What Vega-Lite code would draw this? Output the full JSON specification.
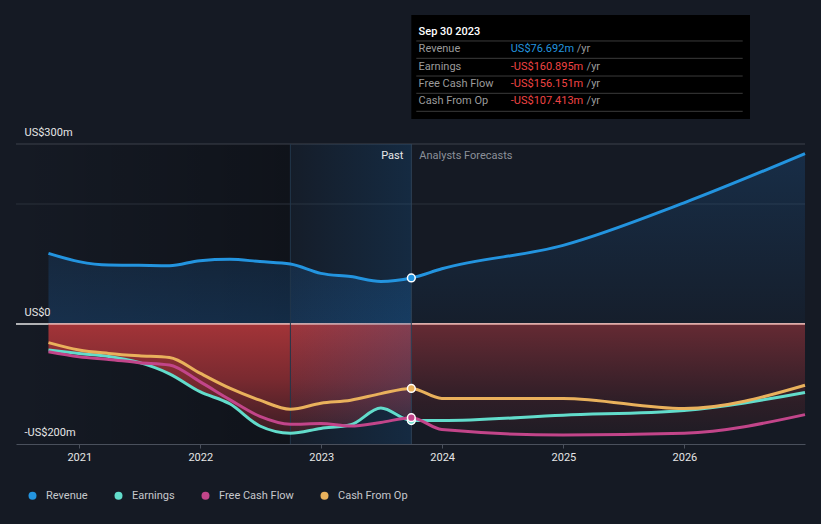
{
  "$schema": "https://vega.github.io/schema/vega-lite/v6.json",
  "width": 789,
  "height": 300,
  "autosize": {"type": "none"},
  "padding": {"left": 16, "top": 144, "right": 16, "bottom": 80},
  "background": "#151a24",
  "config": {"font": "Roboto", "view": {"stroke": null}},
  "datasets": {
    "fin": [
      {"date": "2020-09-30", "series": "Revenue", "value": 117.8},
      {"date": "2020-12-31", "series": "Revenue", "value": 104},
      {"date": "2021-03-31", "series": "Revenue", "value": 98.3},
      {"date": "2021-06-30", "series": "Revenue", "value": 97.8},
      {"date": "2021-09-30", "series": "Revenue", "value": 97.2},
      {"date": "2021-12-31", "series": "Revenue", "value": 105.6},
      {"date": "2022-03-31", "series": "Revenue", "value": 108},
      {"date": "2022-06-30", "series": "Revenue", "value": 104},
      {"date": "2022-09-30", "series": "Revenue", "value": 100},
      {"date": "2022-12-31", "series": "Revenue", "value": 84.4},
      {"date": "2023-03-31", "series": "Revenue", "value": 79},
      {"date": "2023-06-30", "series": "Revenue", "value": 71},
      {"date": "2023-09-30", "series": "Revenue", "value": 76.692},
      {"date": "2023-12-31", "series": "Revenue", "value": 92},
      {"date": "2024-12-31", "series": "Revenue", "value": 131},
      {"date": "2025-12-31", "series": "Revenue", "value": 202},
      {"date": "2026-12-31", "series": "Revenue", "value": 284},
      {"date": "2020-09-30", "series": "Earnings", "value": -43.3},
      {"date": "2020-12-31", "series": "Earnings", "value": -49},
      {"date": "2021-03-31", "series": "Earnings", "value": -54},
      {"date": "2021-06-30", "series": "Earnings", "value": -64},
      {"date": "2021-09-30", "series": "Earnings", "value": -83},
      {"date": "2021-12-31", "series": "Earnings", "value": -112.8},
      {"date": "2022-03-31", "series": "Earnings", "value": -133},
      {"date": "2022-06-30", "series": "Earnings", "value": -170},
      {"date": "2022-09-30", "series": "Earnings", "value": -182},
      {"date": "2022-12-31", "series": "Earnings", "value": -174},
      {"date": "2023-03-31", "series": "Earnings", "value": -168},
      {"date": "2023-06-30", "series": "Earnings", "value": -140},
      {"date": "2023-09-30", "series": "Earnings", "value": -160.895},
      {"date": "2023-12-31", "series": "Earnings", "value": -161},
      {"date": "2024-12-31", "series": "Earnings", "value": -152},
      {"date": "2025-12-31", "series": "Earnings", "value": -144},
      {"date": "2026-12-31", "series": "Earnings", "value": -114},
      {"date": "2020-09-30", "series": "Free Cash Flow", "value": -46.1},
      {"date": "2020-12-31", "series": "Free Cash Flow", "value": -54.4},
      {"date": "2021-03-31", "series": "Free Cash Flow", "value": -59},
      {"date": "2021-06-30", "series": "Free Cash Flow", "value": -64.4},
      {"date": "2021-09-30", "series": "Free Cash Flow", "value": -68.3},
      {"date": "2021-12-31", "series": "Free Cash Flow", "value": -96.1},
      {"date": "2022-03-31", "series": "Free Cash Flow", "value": -126},
      {"date": "2022-06-30", "series": "Free Cash Flow", "value": -154},
      {"date": "2022-09-30", "series": "Free Cash Flow", "value": -167},
      {"date": "2022-12-31", "series": "Free Cash Flow", "value": -166},
      {"date": "2023-03-31", "series": "Free Cash Flow", "value": -170},
      {"date": "2023-06-30", "series": "Free Cash Flow", "value": -164},
      {"date": "2023-09-30", "series": "Free Cash Flow", "value": -156.151},
      {"date": "2023-12-31", "series": "Free Cash Flow", "value": -176},
      {"date": "2024-12-31", "series": "Free Cash Flow", "value": -185},
      {"date": "2025-12-31", "series": "Free Cash Flow", "value": -182},
      {"date": "2026-12-31", "series": "Free Cash Flow", "value": -151},
      {"date": "2020-09-30", "series": "Cash From Op", "value": -31},
      {"date": "2020-12-31", "series": "Cash From Op", "value": -43.3},
      {"date": "2021-03-31", "series": "Cash From Op", "value": -49},
      {"date": "2021-06-30", "series": "Cash From Op", "value": -53},
      {"date": "2021-09-30", "series": "Cash From Op", "value": -56},
      {"date": "2021-12-31", "series": "Cash From Op", "value": -82},
      {"date": "2022-03-31", "series": "Cash From Op", "value": -107},
      {"date": "2022-06-30", "series": "Cash From Op", "value": -127},
      {"date": "2022-09-30", "series": "Cash From Op", "value": -142},
      {"date": "2022-12-31", "series": "Cash From Op", "value": -132},
      {"date": "2023-03-31", "series": "Cash From Op", "value": -127},
      {"date": "2023-06-30", "series": "Cash From Op", "value": -116},
      {"date": "2023-09-30", "series": "Cash From Op", "value": -107.413},
      {"date": "2023-12-31", "series": "Cash From Op", "value": -124},
      {"date": "2024-12-31", "series": "Cash From Op", "value": -124},
      {"date": "2025-12-31", "series": "Cash From Op", "value": -141},
      {"date": "2026-12-31", "series": "Cash From Op", "value": -102}
    ]
  },
  "layer": [
    {
      "data": {"name": "fin"},
      "transform": [{"filter": "datum.series == 'Revenue' && time(datum.date) <= time('2023-09-30')"}],
      "mark": {"type": "area", "interpolate": "monotone", "opacity": 0},
      "encoding": {
        "x": {
          "field": "date", "type": "temporal",
          "scale": {"domain": [{"year": 2020, "month": 6, "date": 24}, {"year": 2026, "month": 12, "date": 31}]},
          "axis": {"title": null, "format": "%Y", "tickCount": {"interval": "year", "step": 1}, "grid": false, "domainColor": "#4a505c", "tickColor": "#4a505c", "tickSize": 4, "labelColor": "#e6e6e6", "labelFontSize": 11, "labelPadding": 3}
        },
        "y": {
          "field": "value", "type": "quantitative",
          "scale": {"domain": [-200, 300], "nice": false, "zero": false},
          "axis": {"title": null, "values": [-200, 0, 300], "labelExpr": "datum.value == 300 ? 'US$300m' : datum.value == 0 ? 'US$0' : '-US$200m'", "domain": false, "ticks": false, "tickSize": 0, "grid": false, "labelAlign": "left", "labelBaseline": "alphabetic", "labelPadding": -8, "labelOffset": -9, "labelColor": "#e6e6e6", "labelFontSize": 11, "zindex": 1}
        }
      }
    },
    {
      "data": {"values": [{}]},
      "mark": {"type": "rect", "fill": {"gradient": "linear", "x1": 0, "y1": 0, "x2": 1, "y2": 0, "stops": [{"offset": 0, "color": "rgba(0,0,0,0)"}, {"offset": 1, "color": "rgba(0,0,0,0.28)"}]}},
      "encoding": {
        "x": {"datum": {"year": 2020, "month": 6, "date": 24}, "type": "temporal"},
        "x2": {"datum": {"year": 2022, "month": 9, "date": 30}},
        "y": {"datum": 300, "type": "quantitative"},
        "y2": {"datum": -200}
      }
    },
    {
      "data": {"values": [{}]},
      "mark": {"type": "rule", "color": "#3c414b", "strokeWidth": 1},
      "encoding": {"y": {"datum": 300, "type": "quantitative"}}
    },
    {
      "data": {"values": [{}]},
      "mark": {"type": "rule", "color": "#2b313b", "strokeWidth": 1},
      "encoding": {"y": {"datum": 200, "type": "quantitative"}}
    },
    {
      "data": {"values": [{}]},
      "mark": {"type": "rule", "color": "#e6e6e6", "strokeWidth": 1.5},
      "encoding": {"y": {"datum": 0, "type": "quantitative"}}
    },
    {
      "data": {"name": "fin"},
      "transform": [{"filter": "datum.series == 'Revenue' && time(datum.date) <= time('2023-09-30')"}],
      "mark": {"type": "area", "interpolate": "monotone", "fill": {"gradient": "linear", "x1": 0, "y1": 0, "x2": 0, "y2": 1, "stops": [{"offset": 0, "color": "rgba(30,100,170,0.2)"}, {"offset": 1, "color": "rgba(30,100,170,0.3)"}]}},
      "encoding": {
        "x": {"field": "date", "type": "temporal"},
        "y": {"field": "value", "type": "quantitative"},
        "y2": {"datum": 0}
      }
    },
    {
      "data": {"name": "fin"},
      "transform": [{"filter": "datum.series == 'Revenue' && time(datum.date) >= time('2023-09-30')"}],
      "mark": {"type": "area", "interpolate": "monotone", "fill": {"gradient": "linear", "x1": 0, "y1": 0, "x2": 0, "y2": 1, "stops": [{"offset": 0, "color": "rgba(30,100,170,0.26)"}, {"offset": 1, "color": "rgba(30,100,170,0.06)"}]}},
      "encoding": {
        "x": {"field": "date", "type": "temporal"},
        "y": {"field": "value", "type": "quantitative"},
        "y2": {"datum": 0}
      }
    },
    {
      "data": {"name": "fin"},
      "transform": [{"filter": "datum.series == 'Earnings' && time(datum.date) <= time('2023-09-30')"}],
      "mark": {"type": "area", "interpolate": "monotone", "fill": {"gradient": "linear", "x1": 0, "y1": 0, "x2": 0, "y2": 1, "stops": [{"offset": 0, "color": "#a33438"}, {"offset": 0.5, "color": "#7a2a30"}, {"offset": 1, "color": "#3a1d24"}]}},
      "encoding": {
        "x": {"field": "date", "type": "temporal"},
        "y": {"field": "value", "type": "quantitative"},
        "y2": {"datum": 0}
      }
    },
    {
      "data": {"name": "fin"},
      "transform": [{"filter": "datum.series == 'Free Cash Flow' && time(datum.date) >= time('2023-09-30')"}],
      "mark": {"type": "area", "interpolate": "monotone", "fill": {"gradient": "linear", "x1": 0, "y1": 0, "x2": 0, "y2": 1, "stops": [{"offset": 0, "color": "#652a33"}, {"offset": 0.7, "color": "#2e1e27"}, {"offset": 1, "color": "#1f1c25"}]}},
      "encoding": {
        "x": {"field": "date", "type": "temporal"},
        "y": {"field": "value", "type": "quantitative"},
        "y2": {"datum": 0}
      }
    },
    {
      "data": {"values": [{}]},
      "mark": {"type": "rule", "color": "#eaaea9", "strokeWidth": 1.5},
      "encoding": {
        "x": {"datum": {"year": 2020, "month": 9, "date": 30}, "type": "temporal"},
        "x2": {"datum": {"year": 2026, "month": 12, "date": 31}},
        "y": {"datum": 0, "type": "quantitative"}
      }
    },
    {
      "data": {"values": [{}]},
      "mark": {"type": "rect", "fill": {"gradient": "linear", "x1": 0, "y1": 0, "x2": 1, "y2": 0, "stops": [{"offset": 0, "color": "rgba(20,100,170,0.04)"}, {"offset": 1, "color": "rgba(20,100,170,0.22)"}]}},
      "encoding": {
        "x": {"datum": {"year": 2022, "month": 9, "date": 30}, "type": "temporal"},
        "x2": {"datum": {"year": 2023, "month": 9, "date": 30}},
        "y": {"datum": 300, "type": "quantitative"},
        "y2": {"datum": -200}
      }
    },
    {
      "data": {"values": [{}]},
      "mark": {"type": "rule", "color": "#22364b", "strokeWidth": 1},
      "encoding": {"x": {"datum": {"year": 2022, "month": 9, "date": 30}, "type": "temporal"}}
    },
    {
      "data": {"values": [{}]},
      "mark": {"type": "rule", "color": "#2e4257", "strokeWidth": 1},
      "encoding": {"x": {"datum": {"year": 2023, "month": 9, "date": 30}, "type": "temporal"}}
    },
    {
      "data": {"name": "fin"},
      "mark": {"type": "line", "interpolate": "monotone", "strokeWidth": 3},
      "encoding": {
        "x": {"field": "date", "type": "temporal"},
        "y": {"field": "value", "type": "quantitative"},
        "color": {
          "field": "series", "type": "nominal",
          "scale": {"domain": ["Revenue", "Earnings", "Free Cash Flow", "Cash From Op"], "range": ["#2394df", "#62dccb", "#c2458a", "#e9b15c"]},
          "legend": {"orient": "none", "legendX": 11, "legendY": 346, "direction": "horizontal", "title": null, "symbolType": "circle", "symbolSize": 64, "symbolStrokeWidth": 0, "labelFontSize": 11, "labelColor": "#c6c8cc", "labelOffset": 8, "columnPadding": 25, "padding": 0}
        }
      }
    },
    {
      "data": {"name": "fin"},
      "transform": [{"filter": "time(datum.date) == time('2023-09-30')"}],
      "mark": {"type": "point", "filled": true, "size": 60, "stroke": "#ffffff", "strokeWidth": 1.5, "opacity": 1},
      "encoding": {
        "x": {"field": "date", "type": "temporal"},
        "y": {"field": "value", "type": "quantitative"},
        "color": {"field": "series", "type": "nominal"}
      }
    },
    {
      "data": {"values": [{}]},
      "mark": {"type": "text", "text": "Past", "align": "right", "baseline": "middle", "dx": -8, "color": "#e8e8e8", "fontSize": 11},
      "encoding": {
        "x": {"datum": {"year": 2023, "month": 9, "date": 30}, "type": "temporal"},
        "y": {"datum": 280, "type": "quantitative"}
      }
    },
    {
      "data": {"values": [{}]},
      "mark": {"type": "text", "text": "Analysts Forecasts", "align": "left", "baseline": "middle", "dx": 8, "color": "#8b9099", "fontSize": 11},
      "encoding": {
        "x": {"datum": {"year": 2023, "month": 9, "date": 30}, "type": "temporal"},
        "y": {"datum": 280, "type": "quantitative"}
      }
    },
    {
      "data": {"values": [{}]},
      "mark": {"type": "rect", "fill": "#000000"},
      "encoding": {
        "x": {"datum": {"year": 2023, "month": 9, "date": 30}, "type": "temporal"},
        "x2": {"datum": {"year": 2026, "month": 7, "date": 18}},
        "y": {"datum": 515, "type": "quantitative"},
        "y2": {"datum": 341.7}
      }
    },
    {
      "data": {"values": [{}]},
      "mark": {"type": "text", "text": "Sep 30 2023", "align": "left", "baseline": "middle", "color": "#ffffff", "fontSize": 11, "fontWeight": 500},
      "encoding": {
        "x": {"datum": {"year": 2023, "month": 10, "date": 22}, "type": "temporal"},
        "y": {"datum": 487, "type": "quantitative"}
      }
    },
    {
      "data": {"values": [{}]},
      "mark": {"type": "rule", "color": "#3b3b3b", "strokeWidth": 1},
      "encoding": {
        "x": {"datum": {"year": 2023, "month": 10, "date": 15}, "type": "temporal"},
        "x2": {"datum": {"year": 2026, "month": 6, "date": 26}},
        "y": {"datum": 471.7, "type": "quantitative"}
      }
    },
    {
      "data": {"values": [{}]},
      "mark": {"type": "rule", "color": "#3b3b3b", "strokeWidth": 1},
      "encoding": {
        "x": {"datum": {"year": 2023, "month": 10, "date": 15}, "type": "temporal"},
        "x2": {"datum": {"year": 2026, "month": 6, "date": 26}},
        "y": {"datum": 442.8, "type": "quantitative"}
      }
    },
    {
      "data": {"values": [{}]},
      "mark": {"type": "rule", "color": "#3b3b3b", "strokeWidth": 1},
      "encoding": {
        "x": {"datum": {"year": 2023, "month": 10, "date": 15}, "type": "temporal"},
        "x2": {"datum": {"year": 2026, "month": 6, "date": 26}},
        "y": {"datum": 413.3, "type": "quantitative"}
      }
    },
    {
      "data": {"values": [{}]},
      "mark": {"type": "rule", "color": "#3b3b3b", "strokeWidth": 1},
      "encoding": {
        "x": {"datum": {"year": 2023, "month": 10, "date": 15}, "type": "temporal"},
        "x2": {"datum": {"year": 2026, "month": 6, "date": 26}},
        "y": {"datum": 384.5, "type": "quantitative"}
      }
    },
    {
      "data": {"values": [{}]},
      "mark": {"type": "rule", "color": "#3b3b3b", "strokeWidth": 1},
      "encoding": {
        "x": {"datum": {"year": 2023, "month": 10, "date": 15}, "type": "temporal"},
        "x2": {"datum": {"year": 2026, "month": 6, "date": 26}},
        "y": {"datum": 354.5, "type": "quantitative"}
      }
    },
    {
      "data": {"values": [{}]},
      "mark": {"type": "text", "text": ["Revenue", "Earnings", "Free Cash Flow", "Cash From Op"], "lineHeight": 17.3, "align": "left", "baseline": "middle", "color": "#9b9b9b", "fontSize": 11},
      "encoding": {
        "x": {"datum": {"year": 2023, "month": 10, "date": 22}, "type": "temporal"},
        "y": {"datum": 457.8, "type": "quantitative"}
      }
    },
    {
      "data": {"values": [{}]},
      "mark": {"type": "text", "text": "US$76.692m", "align": "left", "baseline": "middle", "color": "#2394df", "fontSize": 11},
      "encoding": {
        "x": {"datum": {"year": 2024, "month": 7, "date": 26}, "type": "temporal"},
        "y": {"datum": 457.8, "type": "quantitative"}
      }
    },
    {
      "data": {"values": [{}]},
      "mark": {"type": "text", "text": ["-US$160.895m", "-US$156.151m", "-US$107.413m"], "lineHeight": 17.3, "align": "left", "baseline": "middle", "color": "#ef4444", "fontSize": 11},
      "encoding": {
        "x": {"datum": {"year": 2024, "month": 7, "date": 26}, "type": "temporal"},
        "y": {"datum": 428.8, "type": "quantitative"}
      }
    },
    {
      "data": {"values": [{}]},
      "mark": {"type": "text", "text": "/yr", "align": "left", "baseline": "middle", "color": "#9b9b9b", "fontSize": 11},
      "encoding": {
        "x": {"datum": {"year": 2025, "month": 2, "date": 10}, "type": "temporal"},
        "y": {"datum": 457.8, "type": "quantitative"}
      }
    },
    {
      "data": {"values": [{}]},
      "mark": {"type": "text", "text": ["/yr", "/yr", "/yr"], "lineHeight": 17.3, "align": "left", "baseline": "middle", "color": "#9b9b9b", "fontSize": 11},
      "encoding": {
        "x": {"datum": {"year": 2025, "month": 3, "date": 12}, "type": "temporal"},
        "y": {"datum": 428.8, "type": "quantitative"}
      }
    }
  ]
}
